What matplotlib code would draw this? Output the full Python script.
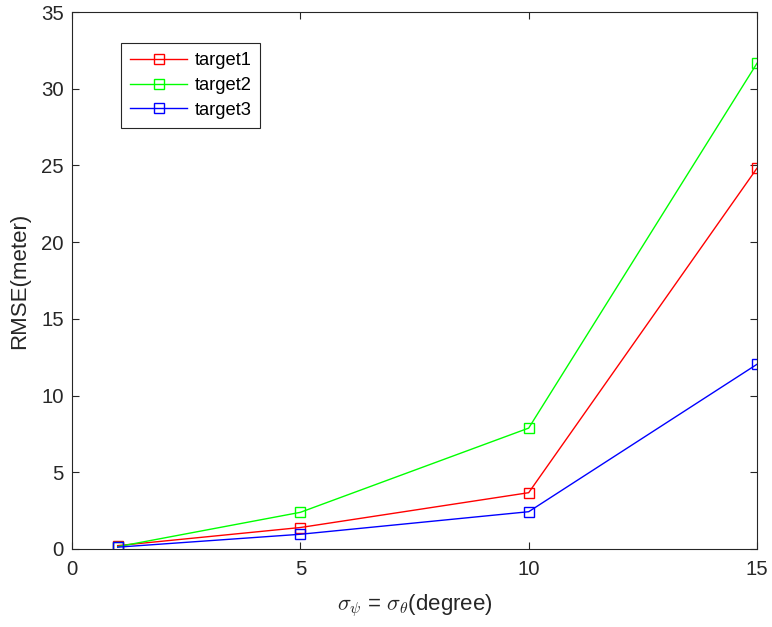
import matplotlib.pyplot as plt

plt.rcParams["font.family"] = ["Liberation Sans", "DejaVu Sans"]
plt.rcParams["mathtext.fontset"] = "cm"

sigma = [1, 5, 10, 15]
target1 = [0.22, 1.40, 3.67, 24.82]
target2 = [0.15, 2.39, 7.88, 31.66]
target3 = [0.12, 0.96, 2.43, 12.04]

series = [
    ("target1", target1, "#ff0000"),
    ("target2", target2, "#00ff00"),
    ("target3", target3, "#0000ff"),
]
AX_COLOR = "#262626"

fig = plt.figure(figsize=(7.72, 6.27), dpi=100)
ax = fig.add_axes([72 / 772, 1 - 549 / 627, (757 - 72) / 772, (549 - 12) / 627])

for name, vals, col in series:
    ax.plot(sigma, vals, color=col, linewidth=1.0, marker="s", markersize=7,
            markerfacecolor="none", markeredgecolor=col, markeredgewidth=1.0,
            label=name)

ax.set_xlim(0, 15)
ax.set_ylim(0, 35)
ax.set_xticks([0, 5, 10, 15])
ax.set_yticks(range(0, 36, 5))
ax.tick_params(direction="in", top=True, right=True, labelsize=14.7,
               color=AX_COLOR, labelcolor=AX_COLOR, length=5, width=0.8)
ax.tick_params(axis="x", pad=8)
ax.tick_params(axis="y", pad=6)
for sp in ax.spines.values():
    sp.set_color(AX_COLOR)
    sp.set_linewidth(0.8)

ax.set_xlabel(r"$\sigma_\psi$ = $\sigma_\theta$(degree)", fontsize=16,
              color=AX_COLOR, labelpad=9)
ax.set_ylabel("RMSE(meter)", fontsize=16, color=AX_COLOR, labelpad=8)

leg = ax.legend(loc="upper left", bbox_to_anchor=(0.0715, 0.942),
                borderaxespad=0, fontsize=13.2, fancybox=False,
                edgecolor=AX_COLOR, framealpha=1, handlelength=3.1,
                handletextpad=0.4, borderpad=0.5, labelspacing=0.42)
leg.get_frame().set_linewidth(0.8)

fig.savefig("out.png", dpi=100)
